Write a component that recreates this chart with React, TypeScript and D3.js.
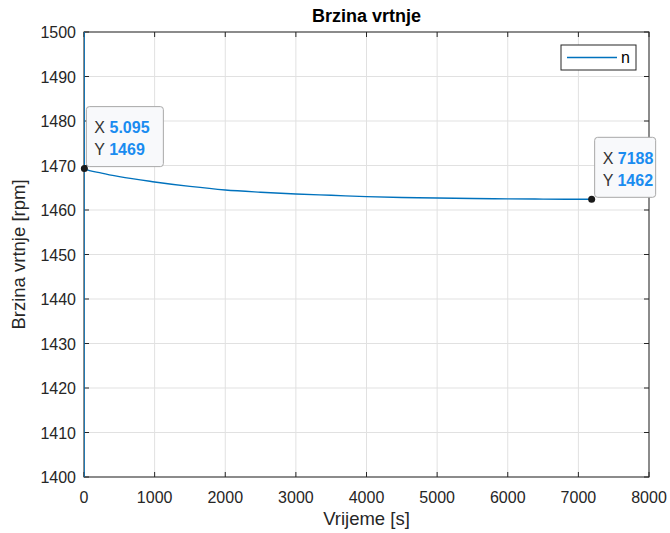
import React from "react";
import * as d3 from "d3";

// Data (time [s], speed [rpm]) — includes the start-up transient at t≈0
const timeValues = [0, 0.5, 1, 2, 3, 5.095, 250, 500, 1000, 1500, 2000, 2500, 3000, 3500, 4000, 4500, 5000, 5500, 6000, 6500, 7188];
const speedValues = [0, 800, 1550, 1485, 1472, 1469.3, 1468.3, 1467.5, 1466.3, 1465.3, 1464.5, 1464.0, 1463.6, 1463.3, 1463.0, 1462.8, 1462.7, 1462.6, 1462.5, 1462.45, 1462.4];
const xTicks = [0, 1000, 2000, 3000, 4000, 5000, 6000, 7000, 8000];
const yTicks = [1400, 1410, 1420, 1430, 1440, 1450, 1460, 1470, 1480, 1490, 1500];
const tips = [
  { idx: 5, xLabel: "5.095", yLabel: "1469", w: 77, dx: 2 },
  { idx: 20, xLabel: "7188", yLabel: "1462", w: 61, dx: 3 },
];

const W = 670, H = 533;
const L = 84, R = 649, T = 32, B = 477;
const AX = "#262626";
const BLUE = "#0072bd";
const TIPBLUE = "#1a8cf0";
const FONT = "'Liberation Sans', Arial, Helvetica, sans-serif";

export default function App() {
  const x = d3.scaleLinear().domain([0, 8000]).range([L, R]);
  const y = d3.scaleLinear().domain([1400, 1500]).range([B, T]);
  const pts = timeValues.map((t, i) => [t, speedValues[i]] as [number, number]);
  const line = d3.line<[number, number]>().x((d) => x(d[0])).y((d) => y(d[1])).curve(d3.curveMonotoneX);
  const tk = 5;
  return (
    <svg width={W} height={H} style={{ position: "absolute", left: 0, top: 0, background: "#fff", fontFamily: FONT }}>
      <defs>
        <clipPath id="plot">
          <rect x={L} y={T} width={R - L} height={B - T} />
        </clipPath>
      </defs>
      <rect x={0} y={0} width={W} height={H} fill="#fff" />
      {/* grid */}
      {xTicks.map((t) => (
        <line key={"gx" + t} x1={x(t)} x2={x(t)} y1={T} y2={B} stroke="#e1e1e1" strokeWidth={1} />
      ))}
      {yTicks.map((t) => (
        <line key={"gy" + t} x1={L} x2={R} y1={y(t)} y2={y(t)} stroke="#e1e1e1" strokeWidth={1} />
      ))}
      {/* box */}
      <rect x={L} y={T} width={R - L} height={B - T} fill="none" stroke={AX} strokeWidth={1} />
      {/* ticks */}
      {xTicks.map((t) => (
        <g key={"tx" + t}>
          <line x1={x(t)} x2={x(t)} y1={B} y2={B - tk} stroke={AX} />
          <line x1={x(t)} x2={x(t)} y1={T} y2={T + tk} stroke={AX} />
          <text x={x(t)} y={503} fontSize={16} fill={AX} textAnchor="middle">{t}</text>
        </g>
      ))}
      {yTicks.map((t) => (
        <g key={"ty" + t}>
          <line x1={L} x2={L + tk} y1={y(t)} y2={y(t)} stroke={AX} />
          <line x1={R} x2={R - tk} y1={y(t)} y2={y(t)} stroke={AX} />
          <text x={76} y={y(t) + 6} fontSize={16} fill={AX} textAnchor="end">{t}</text>
        </g>
      ))}
      {/* data */}
      <path d={line(pts) || ""} fill="none" stroke={BLUE} strokeWidth={1.4} clipPath="url(#plot)" />
      {/* labels */}
      <text x={(L + R) / 2} y={22} fontSize={18} fontWeight="bold" fill="#000" textAnchor="middle">Brzina vrtnje</text>
      <text x={(L + R) / 2} y={525} fontSize={18.5} fill={AX} textAnchor="middle">Vrijeme [s]</text>
      <text transform={`translate(25,${(T + B) / 2}) rotate(-90)`} fontSize={18.5} fill={AX} textAnchor="middle">Brzina vrtnje [rpm]</text>
      {/* legend */}
      <rect x={561} y={45} width={75} height={25} fill="#fff" stroke={AX} strokeWidth={1} />
      <line x1={567} x2={617} y1={57.5} y2={57.5} stroke={BLUE} strokeWidth={1.4} />
      <text x={621} y={63} fontSize={16} fill="#000">n</text>
      {/* datatips */}
      {tips.map((tp, i) => {
        const px = x(timeValues[tp.idx]);
        const py = y(speedValues[tp.idx]);
        const bx = px + tp.dx;
        const by = py - 62;
        return (
          <g key={"tip" + i}>
            <rect x={bx} y={by} width={tp.w} height={60} rx={3} fill="#f8f9fb" stroke="#a8a8a8" strokeWidth={1} />
            <text x={bx + 8} y={by + 26.5} fontSize={16} fill="#333">
              X <tspan fill={TIPBLUE} fontWeight="bold">{tp.xLabel}</tspan>
            </text>
            <text x={bx + 8} y={by + 48.5} fontSize={16} fill="#333">
              Y <tspan fill={TIPBLUE} fontWeight="bold">{tp.yLabel}</tspan>
            </text>
            <circle cx={px} cy={py} r={3.5} fill="#1a1a1a" />
          </g>
        );
      })}
    </svg>
  );
}
